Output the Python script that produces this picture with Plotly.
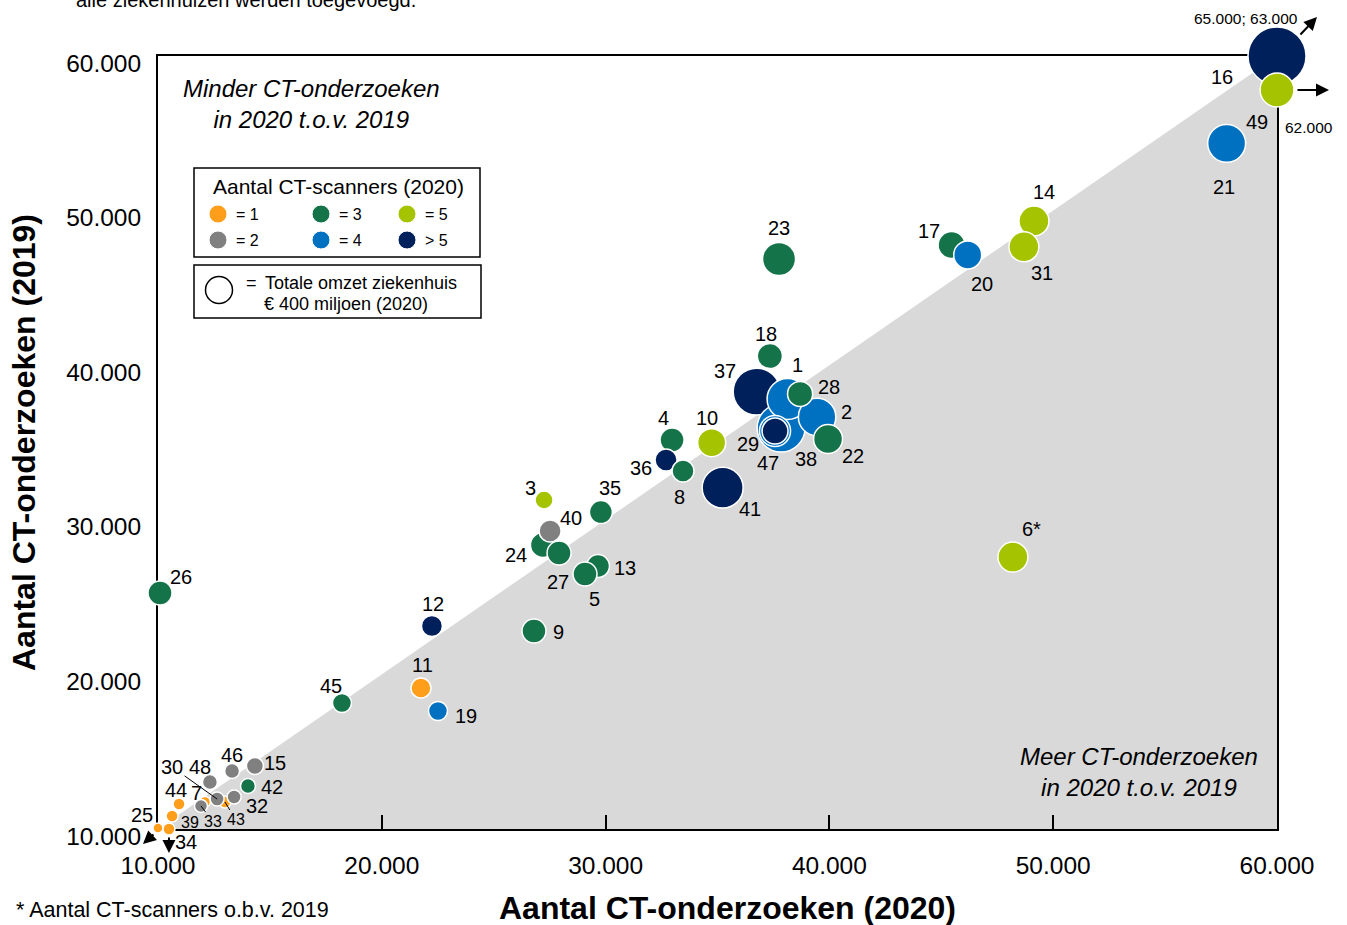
import plotly.graph_objects as go
import numpy as np

# ---------------- data (draw order) ----------------
hospital = [16, 49, 37, 38, 1, 2, 28, 22, 47, 29, 18, 41, 10, 4, 36, 8, 23, 17, 20, 14, 31, 21, 6,
            26, 45, 11, 19, 12, 9, 24, 40, 27, 3, 35, 13, 5,
            15, 46, 48, 42, 44, 39, 25, 34, 7, 43, 30, 33, 32]
ct_2020 = [65000, 62000, 36750, 37840, 38130, 39450, 38690, 39940, 37570, 37570, 37340, 35230, 34740,
           32970, 32700, 33460, 37750, 45460, 46180, 49140, 48690, 57750, 48200,
           10090, 18220, 21750, 22510, 22240, 26800, 27200, 27520, 27920, 27250, 29790, 29660, 29080,
           14330, 13310, 12320, 14020, 10940, 10630, 10000, 10490, 12100, 12990, 12640, 11920, 13400]
ct_2019 = [63000, 57800, 38290, 35940, 37810, 36650, 38140, 35230, 35740, 35740, 40590, 32080, 34990,
           35160, 33870, 33160, 46870, 47770, 47130, 49330, 47660, 54350, 27590,
           25270, 18150, 19120, 17630, 23130, 22810, 28370, 29280, 27850, 31280, 30500, 27010, 26490,
           14080, 13750, 13040, 12780, 11620, 10840, 10060, 10000, 11750, 11750, 11940, 11490, 12070]
scanners = [6, 5, 6, 4, 4, 4, 3, 3, 4, 6, 3, 6, 5, 3, 6, 3, 3, 3, 4, 5, 5, 4, 5,
            3, 3, 1, 4, 6, 3, 3, 2, 3, 5, 3, 3, 3,
            2, 2, 2, 3, 1, 1, 1, 1, 1, 1, 2, 2, 2]
omzet_mln = [1850, 630, 1210, 1260, 920, 770, 345, 460, 530, 370, 345, 920, 430, 316, 266, 266, 600, 400,
             430, 494, 494, 790, 494,
             316, 198, 220, 198, 242, 316, 343, 266, 316, 178, 290, 290, 316,
             159, 123, 123, 123, 79, 79, 55, 79, 66, 79, 108, 93, 108]

x_ticks = [10000, 20000, 30000, 40000, 50000, 60000]
y_ticks = [10000, 20000, 30000, 40000, 50000, 60000]
tick_text = ["10.000", "20.000", "30.000", "40.000", "50.000", "60.000"]

legend_cats = [(1, "= 1"), (2, "= 2"), (3, "= 3"), (4, "= 4"), (5, "= 5"), (6, "> 5")]
ref_omzet = 400

# ---------------- styles ----------------
FONT = "Liberation Sans, Arial, sans-serif"
COLORS = {1: "#FF9E1B", 2: "#808080", 3: "#15734A", 4: "#0070C0", 5: "#A6C300", 6: "#00205B"}
XMIN, XMAX, YMIN, YMAX = 10000, 60000, 10000, 60000
W, H = 1347, 925
ML, MR, MT, MB = 158, 70, 56, 96
PW, PH = W - ML - MR, H - MT - MB
REF_D = 27  # px diameter of 400 mln circle

def px2paper_x(p):
    return (p - ML) / PW

def py2paper_y(p):
    return (H - MB - p) / PH

def d2paper_x(v):
    return (v - XMIN) / (XMAX - XMIN)

def d2paper_y(v):
    return (v - YMIN) / (YMAX - YMIN)

def text_at(fig, px, py, text, size, xanchor="center", yanchor="middle", **kw):
    fig.add_annotation(x=px2paper_x(px), y=py2paper_y(py), xref="paper", yref="paper",
                       xanchor=xanchor, yanchor=yanchor, showarrow=False, text=text,
                       font=dict(family=FONT, size=size, color="black"), **kw)

xd = np.clip(np.array(ct_2020, float), XMIN, XMAX)
yd = np.clip(np.array(ct_2019, float), YMIN, YMAX)
sizes = REF_D * np.sqrt(np.array(omzet_mln, float) / ref_omzet)
cols = [COLORS[s] for s in scanners]

fig = go.Figure()
fig.add_trace(go.Scatter(
    x=xd, y=yd, mode="markers",
    marker=dict(size=sizes, color=cols, line=dict(color="white", width=1.5), opacity=1),
    cliponaxis=False, hoverinfo="skip", showlegend=False))

# grey triangle (more CT in 2020)
fig.add_shape(type="path", xref="x", yref="y", layer="below",
              path=f"M {XMIN},{YMIN} L {XMAX},{YMIN} L {XMAX},{YMAX} Z",
              fillcolor="#D9D9D9", line=dict(width=0))

# label offsets in px (dx right, dy down)
LABEL_OFF = {1: (10, -34), 2: (29, -5), 3: (-14, -12), 4: (-9, -22), 5: (9, 25), 6: (19, -28),
             7: (-9, -9), 8: (-4, 26), 9: (25, 1), 10: (-5, -25), 11: (2, -23), 12: (1, -22),
             13: (27, 2), 14: (10, -29), 15: (20, -3), 16: (-55, 21), 17: (-23, -14), 18: (-4, -22),
             19: (28, 5), 20: (14, 29), 21: (-3, 44), 22: (25, 17), 23: (0, -31), 24: (-27, 10),
             25: (-16, -13), 26: (21, -16), 27: (-1, 29), 28: (29, -7), 29: (-27, 13), 31: (18, 26),
             32: (23, 9), 34: (17, 13), 35: (9, -24), 36: (-25, 8), 37: (-32, -21), 38: (25, 31),
             39: (18, 6), 40: (21, -13), 41: (27, 21), 42: (24, 1), 44: (-3, -14), 45: (-11, -17),
             46: (0, -16), 47: (-7, 32), 48: (-10, -15), 49: (-20, 32)}
LEADER_OFF = {30: (-45, -32), 33: (12, 16), 43: (11, 18)}
SMALL = {39, 33, 43}

for h, xv, yv in zip(hospital, xd, yd):
    txt = "6*" if h == 6 else str(h)
    fs = 16 if h in SMALL else 20
    if h in LEADER_OFF:
        dx, dy = LEADER_OFF[h]
        fig.add_annotation(x=xv, y=yv, xref="x", yref="y", text=txt, showarrow=True,
                           arrowhead=0, arrowwidth=1, arrowcolor="black", ax=dx, ay=dy,
                           xanchor="center", yanchor="middle",
                           font=dict(family=FONT, size=fs, color="black"))
    else:
        dx, dy = LABEL_OFF[h]
        fig.add_annotation(x=xv, y=yv, xref="x", yref="y", text=txt, showarrow=False,
                           xanchor="center", yanchor="middle",
                           xshift=dx, yshift=-dy, font=dict(family=FONT, size=fs, color="black"))

# off-scale arrows: (hospital, tail offset px, tip offset px)
ARROWS = {16: ((22, -20), (40, -39)), 49: ((19, 0), (52, 0)),
          25: ((-3, 5), (-15, 16)), 34: ((0, 7), (0, 24))}
for h, (tail, tip) in ARROWS.items():
    i = hospital.index(h)
    hx = d2paper_x(xd[i]) + tip[0] / PW
    hy = d2paper_y(yd[i]) - tip[1] / PH
    fig.add_annotation(x=hx, y=hy, xref="paper", yref="paper", text="", showarrow=True,
                       arrowhead=2, arrowsize=1.3, arrowwidth=2, arrowcolor="black",
                       ax=tail[0] - tip[0], ay=tail[1] - tip[1])

# actual values of off-scale points
i16 = hospital.index(16)
fig.add_annotation(x=d2paper_x(xd[i16]) - 31 / PW, y=d2paper_y(yd[i16]) + 38 / PH,
                   xref="paper", yref="paper", showarrow=False, xanchor="center", yanchor="middle",
                   text=f"{ct_2020[i16]:,}; {ct_2019[i16]:,}".replace(",", "."),
                   font=dict(family=FONT, size=15.5, color="black"))
i49 = hospital.index(49)
fig.add_annotation(x=d2paper_x(xd[i49]) + 32 / PW, y=d2paper_y(yd[i49]) - 37 / PH,
                   xref="paper", yref="paper", showarrow=False, xanchor="center", yanchor="middle",
                   text=f"{ct_2020[i49]:,}".replace(",", "."),
                   font=dict(family=FONT, size=15.5, color="black"))

# region notes
text_at(fig, 311, 104, "<i>Minder CT-onderzoeken<br>in 2020 t.o.v. 2019</i>", 24)
text_at(fig, 1139, 772, "<i>Meer CT-onderzoeken<br>in 2020 t.o.v. 2019</i>", 24)

# legend boxes
for (x0, y0, x1, y1) in [(194, 168, 480, 257), (194, 265, 481, 318)]:
    fig.add_shape(type="rect", xref="paper", yref="paper",
                  x0=px2paper_x(x0), x1=px2paper_x(x1), y0=py2paper_y(y1), y1=py2paper_y(y0),
                  line=dict(color="black", width=1.5), fillcolor="white", layer="above")
text_at(fig, 338, 186, "Aantal CT-scanners (2020)", 21)
col_x = [218, 321, 407]
row_y = [214, 240]
for k, (cat, lab) in enumerate(legend_cats):
    cx, cy = col_x[k // 2], row_y[k % 2]
    fig.add_shape(type="circle", xref="paper", yref="paper", xsizemode="pixel", ysizemode="pixel",
                  xanchor=px2paper_x(cx), yanchor=py2paper_y(cy), x0=-9, x1=9, y0=-9, y1=9,
                  fillcolor=COLORS[cat], line=dict(color="white", width=1), layer="above")
    text_at(fig, cx + 16, cy + 1, lab, 16, xanchor="left")
rd = REF_D / 2
fig.add_shape(type="circle", xref="paper", yref="paper", xsizemode="pixel", ysizemode="pixel",
              xanchor=px2paper_x(219), yanchor=py2paper_y(290), x0=-rd, x1=rd, y0=-rd, y1=rd,
              fillcolor="white", line=dict(color="black", width=1.5), layer="above")
text_at(fig, 244, 283, "=", 18, xanchor="left")
text_at(fig, 263, 283, "Totale omzet ziekenhuis", 18, xanchor="left")
text_at(fig, 262, 304, f"€ {ref_omzet} miljoen (2020)", 18, xanchor="left")

# axis titles, footnote, clipped top text
text_at(fig, 727, 908, "<b>Aantal CT-onderzoeken (2020)</b>", 32)
text_at(fig, 24, 443, "<b>Aantal CT-onderzoeken (2019)</b>", 32, textangle=-90)
text_at(fig, 14, 910, "* Aantal CT-scanners o.b.v. 2019", 21.5, xanchor="left")
text_at(fig, 418, 0, "alle ziekenhuizen werden toegevoegd.", 20, xanchor="right")

fig.update_xaxes(range=[XMIN, XMAX], tickvals=x_ticks, ticktext=tick_text, showgrid=False, zeroline=False,
                 showline=True, mirror=True, linecolor="black", linewidth=2, ticks="inside",
                 ticklen=14, tickwidth=1.5, tickcolor="black", ticklabelstandoff=14,
                 tickfont=dict(family=FONT, size=24.5, color="black"), layer="below traces")
fig.update_yaxes(range=[YMIN, YMAX], tickvals=y_ticks, ticktext=tick_text, showgrid=False, zeroline=False,
                 showline=True, mirror=True, linecolor="black", linewidth=2, ticks="",
                 ticklabelstandoff=10, ticklabelshift=7,
                 tickfont=dict(family=FONT, size=24.5, color="black"), layer="below traces")
fig.update_layout(width=W, height=H, margin=dict(l=ML, r=MR, t=MT, b=MB, pad=0),
                  plot_bgcolor="white", paper_bgcolor="white", showlegend=False,
                  font=dict(family=FONT, color="black"))
fig.write_html("out.html", config={"displayModeBar": False},
               post_script="document.body.style.margin='0';")
